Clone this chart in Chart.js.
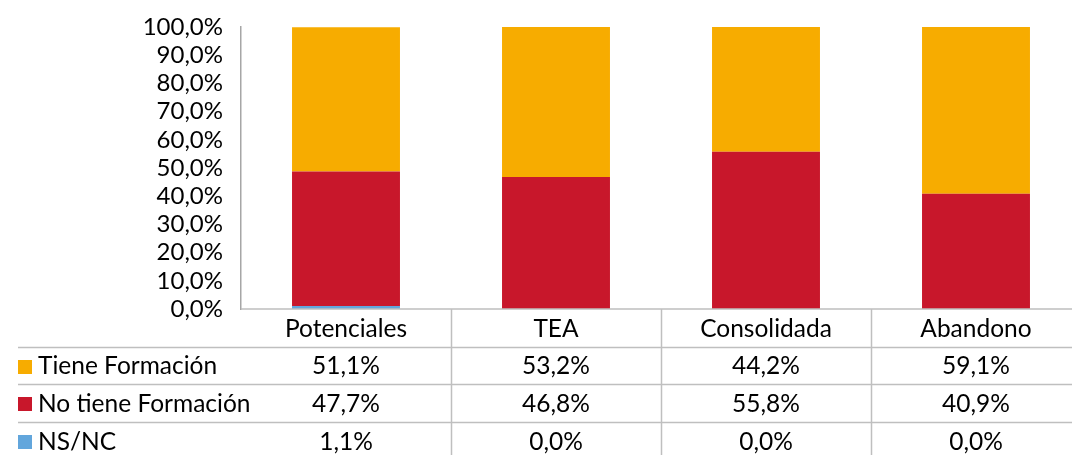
<!DOCTYPE html>
<html>
<head>
<meta charset="utf-8">
<script src="https://cdn.jsdelivr.net/npm/chart.js@4/dist/chart.umd.min.js"></script>
<style>
  html, body { margin: 0; padding: 0; background: #fff; overflow: hidden; }
  #wrap { width: 1090px; height: 455px; }
</style>
</head>
<body>
<div id="wrap"><canvas id="chart" width="1090" height="455"></canvas></div>
<script>
const categories = ["Potenciales", "TEA", "Consolidada", "Abandono"];
const tieneFormacion = [51.1, 53.2, 44.2, 59.1];
const noTieneFormacion = [47.7, 46.8, 55.8, 40.9];
const nsnc = [1.1, 0.0, 0.0, 0.0];
const yTicks = [0, 10, 20, 30, 40, 50, 60, 70, 80, 90, 100];

const FONT = "Lato, 'Noto Sans', sans-serif";
const fmt = (v) => v.toFixed(1).replace(".", ",") + "%";

// table rows, top to bottom like the picture
const rows = [
  { label: "Tiene Formación", color: "#F7AC00", values: tieneFormacion },
  { label: "No tiene Formación", color: "#C8172B", values: noTieneFormacion },
  { label: "NS/NC", color: "#62A6DC", values: nsnc },
];

const dataTable = {
  id: "dataTable",
  afterDraw(chart) {
    const ctx = chart.ctx;
    const area = chart.chartArea;
    const x = chart.scales.x;
    const rowH = 37.7;
    const right = chart.width;
    const step = x.getPixelForValue(1) - x.getPixelForValue(0);

    ctx.save();
    ctx.strokeStyle = "#BFBFBF";
    ctx.lineWidth = 1.5;
    ctx.beginPath();
    ctx.moveTo(area.left, area.bottom);
    ctx.lineTo(right, area.bottom);
    for (let i = 1; i <= rows.length; i++) {
      const y = Math.round(area.bottom + rowH * i) + 0.5;
      ctx.moveTo(18, y);
      ctx.lineTo(right, y);
    }
    for (let i = 1; i < categories.length; i++) {
      const xx = Math.round(x.getPixelForValue(i) - step / 2) + 0.5;
      ctx.moveTo(xx, area.bottom);
      ctx.lineTo(xx, chart.height);
    }
    ctx.stroke();

    ctx.font = "24.5px " + FONT;
    ctx.fillStyle = "#000";
    ctx.textBaseline = "middle";
    ctx.textAlign = "center";
    categories.forEach((c, i) => {
      ctx.fillText(c, x.getPixelForValue(i), area.bottom + rowH / 2 + 1);
    });
    rows.forEach((r, j) => {
      const cy = area.bottom + rowH * (j + 1.5) + 1;
      ctx.fillStyle = r.color;
      ctx.fillRect(18, Math.round(cy - 7), 14, 14);
      ctx.fillStyle = "#000";
      ctx.textAlign = "left";
      ctx.fillText(r.label, 38, cy);
      ctx.textAlign = "center";
      r.values.forEach((v, i) => {
        ctx.fillText(fmt(v), x.getPixelForValue(i), cy);
      });
    });
    ctx.restore();
  },
};

new Chart(document.getElementById("chart"), {
  type: "bar",
  data: {
    labels: categories,
    datasets: [
      { label: "NS/NC", data: nsnc, backgroundColor: "#62A6DC" },
      { label: "No tiene Formación", data: noTieneFormacion, backgroundColor: "#C8172B" },
      { label: "Tiene Formación", data: tieneFormacion, backgroundColor: "#F7AC00" },
    ],
  },
  options: {
    responsive: false,
    devicePixelRatio: 1,
    animation: false,
    layout: { padding: { top: 27, right: 9, bottom: 146, left: 0 } },
    plugins: { legend: { display: false }, tooltip: { enabled: false } },
    datasets: { bar: { categoryPercentage: 1, barPercentage: 0.514 } },
    scales: {
      x: { stacked: true, display: false },
      y: {
        stacked: true,
        min: 0,
        max: 100,
        afterFit(s) {
          s.width = 241;
          s.paddingTop = 0;
          s.paddingBottom = 0;
        },
        afterBuildTicks(s) { s.ticks = yTicks.map((v) => ({ value: v })); },
        grid: { display: false, drawTicks: false },
        border: { display: true, color: "#A6A6A6", width: 1.5 },
        ticks: {
          autoSkip: false,
          padding: 18,
          color: "#000",
          font: { family: FONT, size: 24 },
          callback: (v) => fmt(v),
        },
      },
    },
  },
  plugins: [dataTable],
});
</script>
</body>
</html>
